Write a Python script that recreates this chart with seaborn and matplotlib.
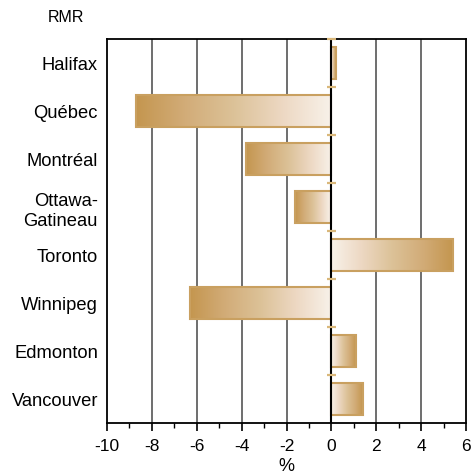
import numpy as np
import pandas as pd
import matplotlib
matplotlib.use("Agg")
import matplotlib.pyplot as plt
from matplotlib.colors import LinearSegmentedColormap
from matplotlib.ticker import MultipleLocator
import seaborn as sns

categories = ["Halifax", "Québec", "Montréal", "Ottawa-\nGatineau", "Toronto",
              "Winnipeg", "Edmonton", "Vancouver"]
values = [0.2, -8.7, -3.8, -1.6, 5.4, -6.3, 1.1, 1.4]
xticks = [-10, -8, -6, -4, -2, 0, 2, 4, 6]
title_text = "RMR"
xlabel_text = "%"

sns.set_theme(style="white")
plt.rcParams["font.family"] = ["Liberation Sans", "DejaVu Sans"]

df = pd.DataFrame({"RMR": categories, "value": values})

fig = plt.figure(figsize=(4.74, 4.77), dpi=100)
ax = fig.add_axes([107/474, 1-424/477, (466-107)/474, (424-40)/477])

sns.barplot(data=df, x="value", y="RMR", orient="h", ax=ax, width=0.68,
            color="white", edgecolor="#C9A060", linewidth=1.5, saturation=1)

cmap = LinearSegmentedColormap.from_list(
    "gold", ["#F8F2EA", "#EDD8C3", "#DCC298", "#D2AC78", "#C4964F"])
grad = np.linspace(0, 1, 256).reshape(1, -1)

for p in ax.patches:
    x0, y0 = p.get_x(), p.get_y()
    w, h = p.get_width(), p.get_height()
    xa, xb = (x0, x0 + w) if w >= 0 else (x0 + w, x0)
    g = grad if w >= 0 else grad[:, ::-1]
    ax.imshow(g, cmap=cmap, aspect="auto", extent=(xa, xb, y0 + h, y0),
              zorder=2, interpolation="bicubic")
    p.set_facecolor("none")
    p.set_zorder(3)

ax.set_xlim(-10, 6)
ax.set_ylim(len(categories) - 0.5, -0.5)
ax.set_xticks(xticks)
ax.set_xticklabels([str(t) for t in xticks], fontsize=12.5)
ax.xaxis.set_minor_locator(MultipleLocator(1))
ax.tick_params(axis="x", which="major", bottom=True, length=5.8, width=1.2,
               color="black", pad=5)
ax.tick_params(axis="x", which="minor", bottom=True, length=3.6, width=1.0,
               color="black")
ax.tick_params(axis="y", left=False, length=0, pad=6.5, labelsize=13.2)
for lab in ax.get_yticklabels():
    lab.set_color("black")
for lab in ax.get_xticklabels():
    lab.set_color("black")

for t in xticks[1:-1]:
    ax.axvline(t, color="black" if t == 0 else "#555555",
               lw=1.5 if t == 0 else 1.2, zorder=1 if t != 0 else 4)

# small separators on zero line
for i in range(len(categories)):
    ax.plot([-0.2, 0.2], [i - 0.5, i - 0.5], color="#D9B77A", lw=1.6,
            zorder=5, solid_capstyle="butt", clip_on=False)

for s in ax.spines.values():
    s.set_visible(True)
    s.set_color("black")
    s.set_linewidth(1.3)

ax.set_ylabel("")
ax.set_xlabel(xlabel_text, fontsize=13, color="black", labelpad=3)
fig.text(66/474, 1-17/477, title_text, fontsize=11.5, ha="center", va="center",
         color="black")

fig.savefig("out.png", dpi=100)
